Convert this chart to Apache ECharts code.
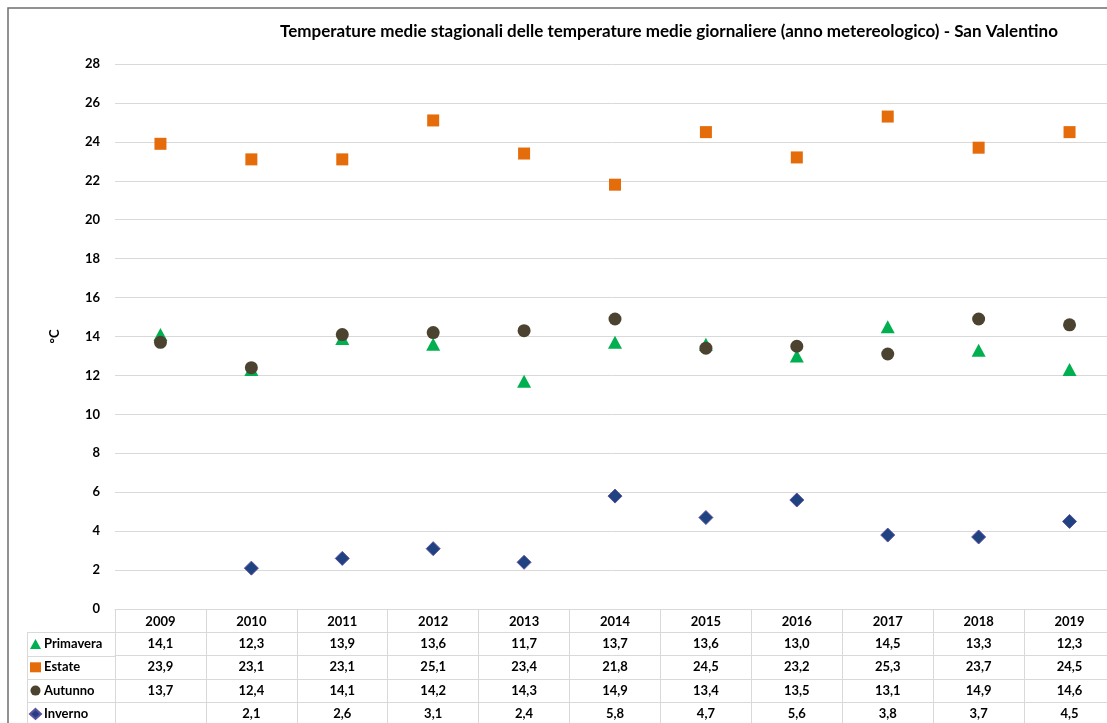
<!DOCTYPE html>
<html>
<head>
<meta charset="utf-8">
<script src="https://cdn.jsdelivr.net/npm/echarts@6/dist/echarts.min.js"></script>
<style>
  html, body { margin: 0; padding: 0; background: #fff; }
  #chart { width: 1107px; height: 723px; }
</style>
</head>
<body>
<div id="chart"></div>
<script>
// ---------- dati ----------
var years = ['2009', '2010', '2011', '2012', '2013', '2014', '2015', '2016', '2017', '2018', '2019'];
var primavera = [14.1, 12.3, 13.9, 13.6, 11.7, 13.7, 13.6, 13.0, 14.5, 13.3, 12.3];
var estate    = [23.9, 23.1, 23.1, 25.1, 23.4, 21.8, 24.5, 23.2, 25.3, 23.7, 24.5];
var autunno   = [13.7, 12.4, 14.1, 14.2, 14.3, 14.9, 13.4, 13.5, 13.1, 14.9, 14.6];
var inverno   = ['-', 2.1, 2.6, 3.1, 2.4, 5.8, 4.7, 5.6, 3.8, 3.7, 4.5];
var yTicks = { min: 0, max: 28, interval: 2 };

(function () {
  'use strict';

  var FONT = 'Lato';
  var GRID_COLOR = '#d9d9d9';
  var ROW_H = 23.3;

  var chart = echarts.init(document.getElementById('chart'));

  function fmt(v) {
    if (v === '-' || v == null) return '';
    return v.toFixed(1).replace('.', ',');
  }

  // assi X: il primo porta gli anni, gli altri sono le righe della tabella dati
  var rows = [primavera, estate, autunno, inverno];
  var xAxes = [{
    type: 'category',
    data: years,
    position: 'bottom',
    axisLine: { lineStyle: { color: GRID_COLOR } },
    axisTick: { show: true, interval: 0, length: 120, lineStyle: { color: GRID_COLOR } },
    axisLabel: { interval: 0, margin: 6, color: '#000', fontFamily: FONT, fontWeight: 'bold', fontSize: 13 },
    splitLine: { show: false }
  }];
  rows.forEach(function (row, i) {
    xAxes.push({
      type: 'category',
      data: years,
      position: 'bottom',
      offset: ROW_H * (i + 1),
      axisLine: { lineStyle: { color: GRID_COLOR } },
      axisTick: { show: false },
      axisLabel: {
        interval: 0, margin: 5, color: '#000', fontFamily: FONT, fontWeight: 'bold', fontSize: 13,
        formatter: function (val, idx) { return fmt(row[idx]); }
      },
      splitLine: { show: false }
    });
  });

  // linee a sinistra della tabella (colonna legenda) e cornice
  var tableLines = [];
  for (var r = 1; r <= 4; r++) {
    var yy = Math.round(609 + ROW_H * r) + 0.5;
    tableLines.push({
      type: 'line', silent: true,
      shape: { x1: 27, y1: yy, x2: 115, y2: yy },
      style: { stroke: GRID_COLOR, lineWidth: 1 }
    });
  }
  tableLines.push({
    type: 'line', silent: true,
    shape: { x1: 27.5, y1: 632, x2: 27.5, y2: 723 },
    style: { stroke: GRID_COLOR, lineWidth: 1 }
  });
  tableLines.push({
    type: 'rect', silent: true,
    shape: { x: 8, y: 8, width: 1200, height: 800 },
    style: { fill: 'none', stroke: '#6e6e6e', lineWidth: 1.5 }
  });

  var option = {
    animation: false,
    backgroundColor: '#fff',
    title: {
      text: 'Temperature medie stagionali delle temperature medie giornaliere (anno metereologico) - San Valentino',
      left: 669,
      top: 23,
      padding: 0,
      textAlign: 'center',
      textStyle: { fontFamily: FONT, fontWeight: 'bold', fontSize: 17, color: '#000' }
    },
    legend: {
      orient: 'vertical',
      left: 29,
      top: 637,
      itemWidth: 11,
      itemHeight: 10,
      itemGap: ROW_H - 14,
      padding: 0,
      data: ['Primavera', 'Estate', 'Autunno', 'Inverno'],
      textStyle: { fontFamily: FONT, fontWeight: 'bold', fontSize: 13, lineHeight: 14, color: '#000', padding: [0, 0, 0, -2] }
    },
    grid: {
      left: 115,
      top: 64,
      width: 1000,
      height: 545,
      outerBoundsMode: 'none'
    },
    xAxis: xAxes,
    yAxis: {
      type: 'value',
      min: yTicks.min,
      max: yTicks.max,
      interval: yTicks.interval,
      name: '°C',
      nameLocation: 'middle',
      nameRotate: 90,
      nameGap: 54,
      nameTextStyle: { fontFamily: FONT, fontWeight: 'bold', fontSize: 13, color: '#000' },
      axisLine: { show: false },
      axisTick: { show: false },
      axisLabel: { margin: 15, color: '#000', fontFamily: FONT, fontWeight: 'bold', fontSize: 13 },
      splitLine: { lineStyle: { color: GRID_COLOR, width: 1 } }
    },
    graphic: tableLines,
    series: [
      {
        name: 'Primavera', type: 'scatter', symbol: 'triangle', symbolSize: [14, 13],
        itemStyle: { color: '#00b050', opacity: 1 }, data: primavera
      },
      {
        name: 'Estate', type: 'scatter', symbol: 'rect', symbolSize: 12,
        itemStyle: { color: '#e46c0a', opacity: 1 }, data: estate
      },
      {
        name: 'Autunno', type: 'scatter', symbol: 'circle', symbolSize: 13,
        itemStyle: { color: '#4b4330', opacity: 1 }, data: autunno
      },
      {
        name: 'Inverno', type: 'scatter', symbol: 'diamond', symbolSize: 14,
        itemStyle: { color: '#1f4280', borderColor: '#5f4f9f', borderWidth: 1, opacity: 1 }, data: inverno
      }
    ]
  };

  chart.setOption(option);
  window.addEventListener('resize', function () { chart.resize(); });
})();
</script>
</body>
</html>
